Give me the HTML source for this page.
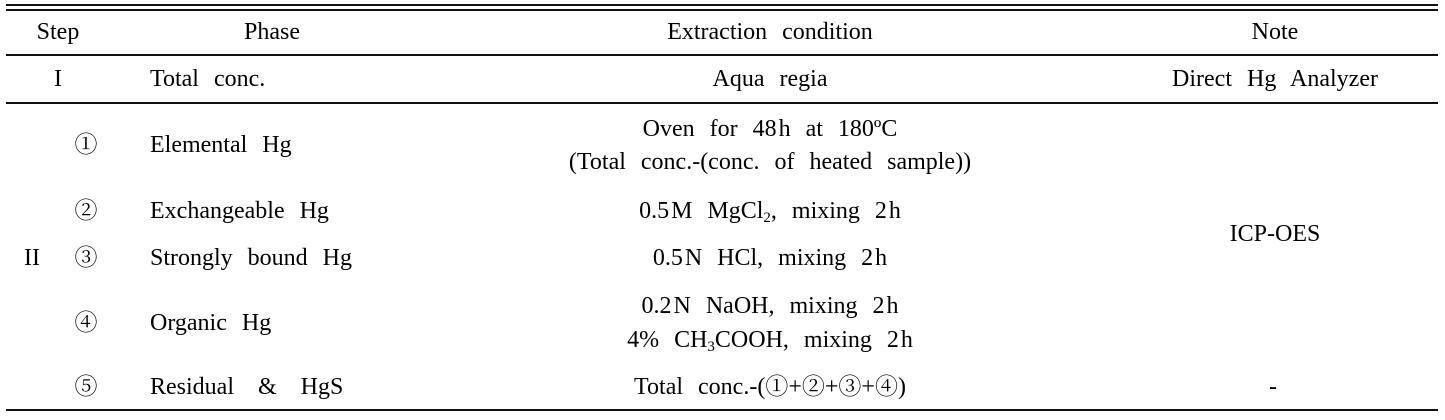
<!DOCTYPE html>
<html><head><style>
body{margin:0;width:1445px;height:420px;background:#fff;position:relative;font-family:"Liberation Serif","Noto Serif CJK SC",serif;font-size:24px;letter-spacing:0;word-spacing:9px;color:#000;overflow:hidden}
.l{position:absolute;left:6px;width:1432px;height:1.5px;background:#111}
.t{position:absolute;white-space:nowrap;line-height:24px;transform:translate(-50%,-50%)}
.p{position:absolute;white-space:nowrap;line-height:24px;transform:translateY(-50%)}
sub{font-size:15px;vertical-align:-4px;line-height:0}
.c{font-size:23px;letter-spacing:0;word-spacing:0}
.w{display:inline-block;width:24px}
</style></head><body>
<div class="l" style="top:4px"></div>
<div class="l" style="top:9px"></div>
<div class="l" style="top:54px"></div>
<div class="l" style="top:102px"></div>
<div class="l" style="top:409px"></div>

<div class="t" style="left:58px;top:32px">Step</div>
<div class="t" style="left:272px;top:32px">Phase</div>
<div class="t" style="left:770px;top:32px">Extraction condition</div>
<div class="t" style="left:1275px;top:32px">Note</div>

<div class="t" style="left:58px;top:79px">I</div>
<div class="p" style="left:150px;top:79px">Total conc.</div>
<div class="t" style="left:770px;top:79px">Aqua regia</div>
<div class="t" style="left:1275px;top:79px">Direct Hg Analyzer</div>

<div class="t" style="left:32px;top:258px">II</div>
<div class="t c" style="left:86px;top:145px">①</div>
<div class="t c" style="left:86px;top:211px">②</div>
<div class="t c" style="left:86px;top:258px">③</div>
<div class="t c" style="left:86px;top:323px">④</div>
<div class="t c" style="left:86px;top:387px">⑤</div>

<div class="p" style="left:150px;top:145px">Elemental Hg</div>
<div class="p" style="left:150px;top:211px">Exchangeable Hg</div>
<div class="p" style="left:150px;top:258px">Strongly bound Hg</div>
<div class="p" style="left:150px;top:323px">Organic Hg</div>
<div class="p" style="left:150px;top:387px">Residual<span class="w"></span>&amp;<span class="w"></span>HgS</div>

<div class="t" style="left:770px;top:129px">Oven for 48&#8202;h at 180ºC</div>
<div class="t" style="left:770px;top:162px">(Total conc.-(conc. of heated sample))</div>
<div class="t" style="left:770px;top:211px">0.5&#8202;M MgCl<sub>2</sub>, mixing 2&#8202;h</div>
<div class="t" style="left:770px;top:258px">0.5&#8202;N HCl, mixing 2&#8202;h</div>
<div class="t" style="left:770px;top:306px">0.2&#8202;N NaOH, mixing 2&#8202;h</div>
<div class="t" style="left:770px;top:340px">4% CH<sub>3</sub>COOH, mixing 2&#8202;h</div>
<div class="t" style="left:770px;top:387px">Total conc.-(<span class="c">①</span>+<span class="c">②</span>+<span class="c">③</span>+<span class="c">④</span>)</div>

<div class="t" style="left:1275px;top:234px">ICP-OES</div>
<div class="t" style="left:1273px;top:387px">-</div>
</body></html>
